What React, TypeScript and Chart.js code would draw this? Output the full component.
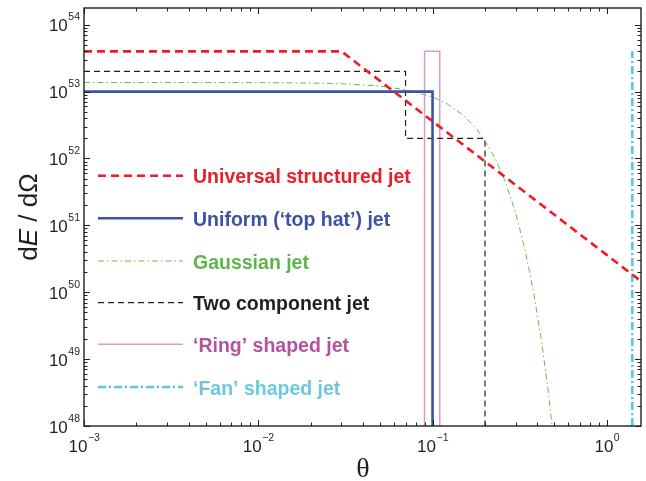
import React, { useEffect, useRef } from 'react';
import { Chart, registerables } from 'chart.js';

Chart.register(...registerables);

// ---- Data (θ in rad, dE/dΩ) ----
const universalX = [0.001, 0.03, 1.5708];
const universalY = [4e53, 4e53, 1.46e50];

const uniformX = [0.001, 0.1, 0.1];
const uniformY = [1e53, 1e53, 1e48];

const gaussianX = [0.001, 0.01, 0.02, 0.03, 0.05, 0.07, 0.1, 0.12, 0.15, 0.18, 0.2, 0.23, 0.26, 0.3, 0.34, 0.38, 0.42, 0.46, 0.5];
const gaussianY = [1.37e53, 1.363e53, 1.343e53, 1.31e53, 1.21e53, 1.07e53, 8.3e52, 6.67e52, 4.45e52, 2.71e52, 1.85e52, 9.7e51, 4.66e51, 1.52e51, 4.23e50, 1.0e50, 2.02e49, 3.48e48, 5.1e47];

const twoCompX = [0.001, 0.07, 0.07, 0.2, 0.2];
const twoCompY = [2e53, 2e53, 2e52, 2e52, 1e48];

const ringX = [0.09, 0.09, 0.11, 0.11];
const ringY = [1e48, 4e53, 4e53, 1e48];

const fanX = [1.4, 1.4];
const fanY = [1e48, 4e53];

const seriesLabels = [
  'Universal structured jet',
  'Uniform (\u2018top hat\u2019) jet',
  'Gaussian jet',
  'Two component jet',
  '\u2018Ring\u2019 shaped jet',
  '\u2018Fan\u2019 shaped jet',
];

const xTickExponents = [-3, -2, -1, 0];
const yTickExponents = [48, 49, 50, 51, 52, 53, 54];

const X_MIN = 1e-3;
const X_MAX = 1.5708;
const Y_MIN = 1e48;
const Y_MAX = 1.778e54;

// ---- Styles ----
const lineColors = ['#ED1C24', '#3A53A4', '#6ABD45', '#231F20', '#D99BCB', '#5CC6DA'];
const textColors = ['#E8202A', '#3A53A4', '#5DB44B', '#231F20', '#B5529E', '#6DC8DC'];
const lineWidths = [2.6, 2.6, 1, 1.2, 1.5, 2.6];
const lineDashes: number[][] = [[8, 5], [], [6, 3, 1.5, 3], [6, 4], [], [8, 3, 2, 3]];

function pts(xs: number[], ys: number[]) {
  return xs.map((x, i) => ({ x, y: ys[i] }));
}

const FONT = '"Liberation Sans", Arial, Helvetica, sans-serif';

const decorPlugin = {
  id: 'decor',
  afterDraw(chart: any) {
    const ctx: CanvasRenderingContext2D = chart.ctx;
    const { left, right, top, bottom } = chart.chartArea;
    const xs = chart.scales.x;
    const ys = chart.scales.y;
    ctx.save();

    // frame
    ctx.strokeStyle = '#231F20';
    ctx.lineWidth = 1.4;
    ctx.setLineDash([]);
    ctx.strokeRect(left, top, right - left, bottom - top);

    // ticks
    ctx.lineWidth = 1;
    ctx.beginPath();
    for (let d = -3; d <= 0; d++) {
      for (let m = 1; m <= 9; m++) {
        const v = m * Math.pow(10, d);
        if (v < X_MIN * 0.999 || v > X_MAX) continue;
        const px = Math.round(xs.getPixelForValue(v)) + 0.5;
        const len = m === 1 ? 6 : 3.5;
        ctx.moveTo(px, bottom);
        ctx.lineTo(px, bottom - len);
        ctx.moveTo(px, top);
        ctx.lineTo(px, top + len);
      }
    }
    for (let d = 48; d <= 54; d++) {
      for (let m = 1; m <= 9; m++) {
        const v = m * Math.pow(10, d);
        if (v < Y_MIN * 0.999 || v > Y_MAX) continue;
        const py = Math.round(ys.getPixelForValue(v)) + 0.5;
        const len = m === 1 ? 6 : 3.5;
        ctx.moveTo(left, py);
        ctx.lineTo(left + len, py);
        ctx.moveTo(right, py);
        ctx.lineTo(right - len, py);
      }
    }
    ctx.stroke();

    // tick labels
    const bigFont = `17px ${FONT}`;
    const supFont = `10.5px ${FONT}`;
    ctx.fillStyle = '#231F20';
    ctx.textBaseline = 'alphabetic';
    ctx.textAlign = 'left';
    for (const e of xTickExponents) {
      const px = xs.getPixelForValue(Math.pow(10, e));
      const sup = e < 0 ? '\u2212' + Math.abs(e) : String(e);
      ctx.font = bigFont;
      const w1 = ctx.measureText('10').width;
      ctx.font = supFont;
      const w2 = ctx.measureText(sup).width;
      const x0 = px - (w1 + w2) / 2;
      ctx.font = bigFont;
      ctx.fillText('10', x0, 452);
      ctx.font = supFont;
      ctx.fillText(sup, x0 + w1 + 0.5, 441);
    }
    for (const e of yTickExponents) {
      const py = ys.getPixelForValue(Math.pow(10, e));
      const sup = String(e);
      ctx.font = supFont;
      const w2 = ctx.measureText(sup).width;
      const xr = 80;
      ctx.fillText(sup, xr - w2, py - 4.5);
      ctx.font = bigFont;
      const w1 = ctx.measureText('10').width;
      ctx.fillText('10', xr - w2 - w1 - 0.5, py + 6.5);
    }

    // x title
    ctx.font = `28px "Liberation Serif", "Times New Roman", serif`;
    ctx.textAlign = 'center';
    ctx.fillText('\u03B8', 363, 477);

    // y title (rotated)
    ctx.save();
    ctx.translate(37, 217);
    ctx.rotate(-Math.PI / 2);
    const parts = [
      { t: 'd', f: `26px ${FONT}` },
      { t: 'E', f: `italic 26px ${FONT}` },
      { t: ' / d\u03A9', f: `26px ${FONT}` },
    ];
    let total = 0;
    for (const p of parts) {
      ctx.font = p.f;
      total += ctx.measureText(p.t).width;
    }
    let cx = -total / 2;
    ctx.textAlign = 'left';
    for (const p of parts) {
      ctx.font = p.f;
      ctx.fillText(p.t, cx, 0);
      cx += ctx.measureText(p.t).width;
    }
    ctx.restore();

    // legend inside plot
    const rows = [175.7, 218.3, 261, 302.7, 344.3, 387];
    ctx.textAlign = 'left';
    ctx.textBaseline = 'alphabetic';
    chart.data.datasets.forEach((ds: any, i: number) => {
      const y = rows[i];
      ctx.beginPath();
      ctx.strokeStyle = ds.borderColor;
      ctx.lineWidth = ds.borderWidth;
      ctx.setLineDash(ds.borderDash || []);
      ctx.moveTo(98, y);
      ctx.lineTo(183, y);
      ctx.stroke();
      ctx.setLineDash([]);
      ctx.font = `bold 19.5px ${FONT}`;
      ctx.fillStyle = textColors[i];
      ctx.fillText(ds.label, 193, y + 7.5);
    });

    ctx.restore();
  },
};

export default function App() {
  const ref = useRef<HTMLCanvasElement | null>(null);

  useEffect(() => {
    if (!ref.current) return;
    const series = [
      pts(universalX, universalY),
      pts(uniformX, uniformY),
      pts(gaussianX, gaussianY),
      pts(twoCompX, twoCompY),
      pts(ringX, ringY),
      pts(fanX, fanY),
    ];
    const chart = new Chart(ref.current, {
      type: 'line',
      data: {
        datasets: series.map((data, i) => ({
          label: seriesLabels[i],
          data,
          borderColor: lineColors[i],
          backgroundColor: lineColors[i],
          borderWidth: lineWidths[i],
          borderDash: lineDashes[i],
          pointRadius: 0,
          fill: false,
          tension: 0,
        })),
      },
      options: {
        animation: false,
        responsive: false,
        maintainAspectRatio: false,
        parsing: true,
        layout: { padding: { left: 84, right: 5, top: 8, bottom: 55 } },
        plugins: {
          legend: { display: false },
          tooltip: { enabled: false },
        },
        scales: {
          x: { type: 'logarithmic', min: X_MIN, max: X_MAX, display: false },
          y: { type: 'logarithmic', min: Y_MIN, max: Y_MAX, display: false },
        },
      },
      plugins: [decorPlugin],
    });
    return () => chart.destroy();
  }, []);

  return (
    <div style={{ position: 'absolute', left: 0, top: 0, width: 646, height: 481, background: '#fff' }}>
      <canvas ref={ref} width={646} height={481} style={{ display: 'block' }} />
    </div>
  );
}
